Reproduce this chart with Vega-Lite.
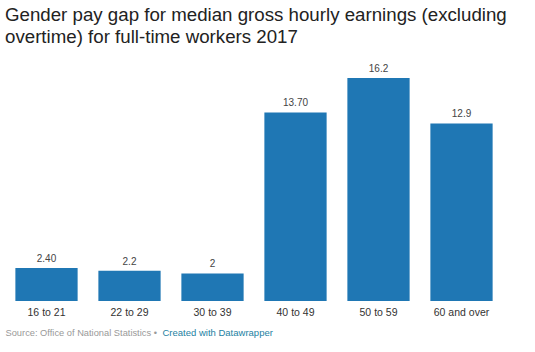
{
  "$schema": "https://vega.github.io/schema/vega-lite/v6.json",
  "width": 498,
  "height": 223,
  "autosize": {"type": "none"},
  "padding": {"left": 5, "top": 78, "right": 32, "bottom": 51},
  "background": "white",
  "title": {
    "text": ["Gender pay gap for median gross hourly earnings (excluding", "overtime) for full-time workers 2017"],
    "anchor": "start",
    "frame": "group",
    "font": "Liberation Sans",
    "fontSize": 18.7,
    "fontWeight": "normal",
    "color": "#222222",
    "lineHeight": 22,
    "offset": 17
  },
  "data": {
    "values": [
      {"age": "16 to 21", "value": 2.4, "label": "2.40"},
      {"age": "22 to 29", "value": 2.2, "label": "2.2"},
      {"age": "30 to 39", "value": 2.0, "label": "2"},
      {"age": "40 to 49", "value": 13.7, "label": "13.70"},
      {"age": "50 to 59", "value": 16.2, "label": "16.2"},
      {"age": "60 and over", "value": 12.9, "label": "12.9"}
    ]
  },
  "encoding": {
    "x": {
      "field": "age",
      "type": "nominal",
      "sort": null,
      "scale": {"paddingInner": 0.25, "paddingOuter": 0.125},
      "axis": {
        "title": "Source: Office of National Statistics •",
        "titleX": 0,
        "titleY": 31,
        "titleAlign": "left",
        "titleAnchor": "start",
        "titleBaseline": "middle",
        "titleColor": "#999999",
        "titleFont": "Liberation Sans",
        "titleFontSize": 9.3,
        "titleFontWeight": "normal",
        "labelAngle": 0,
        "labelFont": "Liberation Sans",
        "labelFontSize": 10.5,
        "labelColor": "#333333",
        "labelPadding": 6,
        "domain": false,
        "ticks": false,
        "grid": false
      }
    },
    "y": {
      "field": "value",
      "type": "quantitative",
      "scale": {"domain": [0, 16.2], "nice": false, "zero": true},
      "axis": {
        "title": "Created with Datawrapper",
        "titleAngle": 0,
        "titleX": 157,
        "titleY": 254,
        "titleAlign": "left",
        "titleBaseline": "middle",
        "titleColor": "#1d81a2",
        "titleFont": "Liberation Sans",
        "titleFontSize": 9.5,
        "titleFontWeight": "normal",
        "labels": false,
        "ticks": false,
        "domain": false,
        "grid": false
      }
    }
  },
  "layer": [
    {"mark": {"type": "bar", "color": "#1f77b4"}},
    {
      "mark": {"type": "text", "baseline": "middle", "dy": -9, "font": "Liberation Sans", "fontSize": 10, "color": "#444444"},
      "encoding": {"text": {"field": "label"}}
    }
  ],
  "config": {"view": {"stroke": null}}
}
